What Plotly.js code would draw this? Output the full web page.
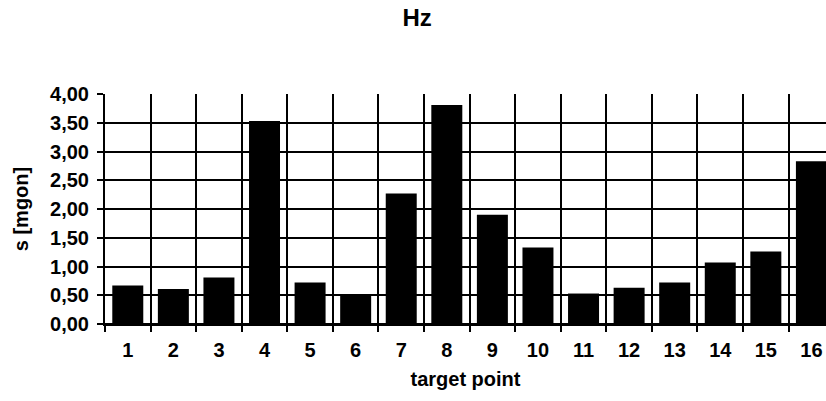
<!DOCTYPE html>
<html>
<head>
<meta charset="utf-8">
<script src="https://cdn.plot.ly/plotly-3.0.1.min.js"></script>
<style>html,body{margin:0;padding:0;background:#fff;}#chart{width:826px;height:401px;}</style>
</head>
<body>
<div id="chart"></div>
<script>
const targetPoints = [1, 2, 3, 4, 5, 6, 7, 8, 9, 10, 11, 12, 13, 14, 15, 16];
const tickLabels = ["1","2","3","4","5","6","7","8","9","10","11","12","13","14","15","16"];
const sValues = [0.67, 0.61, 0.81, 3.53, 0.72, 0.49, 2.27, 3.81, 1.90, 1.33, 0.53, 0.63, 0.72, 1.07, 1.26, 2.83];

const fontFam = 'Liberation Sans, Arial, sans-serif';
const data = [{
  type: 'bar',
  x: targetPoints,
  y: sValues,
  marker: {color: '#000000', line: {width: 0}},
  width: 0.68,
  hoverinfo: 'skip'
}];

const layout = {
  width: 826, height: 401,
  margin: {l: 105, r: 0, t: 94, b: 77},
  paper_bgcolor: '#ffffff', plot_bgcolor: '#ffffff',
  separators: ',.',
  showlegend: false,
  title: {text: '<b>Hz</b>', x: 0.505, xanchor: 'center', y: 0.955, yanchor: 'middle',
          font: {family: fontFam, size: 24, color: '#000'}},
  xaxis: {
    range: [0.5, 16.32],
    tickmode: 'array', tickvals: targetPoints, ticktext: tickLabels,
    ticks: '', showgrid: false, zeroline: false,
    showline: true, linecolor: '#000', linewidth: 2,
    tickfont: {family: fontFam, size: 20, color: '#000', weight: 'bold'},
    ticklabelstandoff: 7,
    minor: {tick0: 0.5, dtick: 1, showgrid: true, gridcolor: '#000', gridwidth: 2,
            ticks: 'outside', ticklen: 6, tickcolor: '#000', tickwidth: 2},
    title: {text: '<b>target point</b>', standoff: 12, font: {family: fontFam, size: 20, color: '#000'}}
  },
  yaxis: {
    range: [0, 4.0],
    tick0: 0, dtick: 0.5, tickformat: '.2f',
    showgrid: true, gridcolor: '#000', gridwidth: 2,
    zeroline: true, zerolinecolor: '#000', zerolinewidth: 2,
    showline: true, linecolor: '#000', linewidth: 2,
    ticks: 'outside', ticklen: 6, tickcolor: '#000', tickwidth: 2,
    ticklabelstandoff: 4,
    tickfont: {family: fontFam, size: 20, color: '#000', weight: 'bold'},
    title: {text: '<b>s [mgon]</b>', standoff: 16, font: {family: fontFam, size: 20, color: '#000'}}
  }
};

Plotly.newPlot('chart', data, layout, {displayModeBar: false, staticPlot: true});
</script>
</body>
</html>
